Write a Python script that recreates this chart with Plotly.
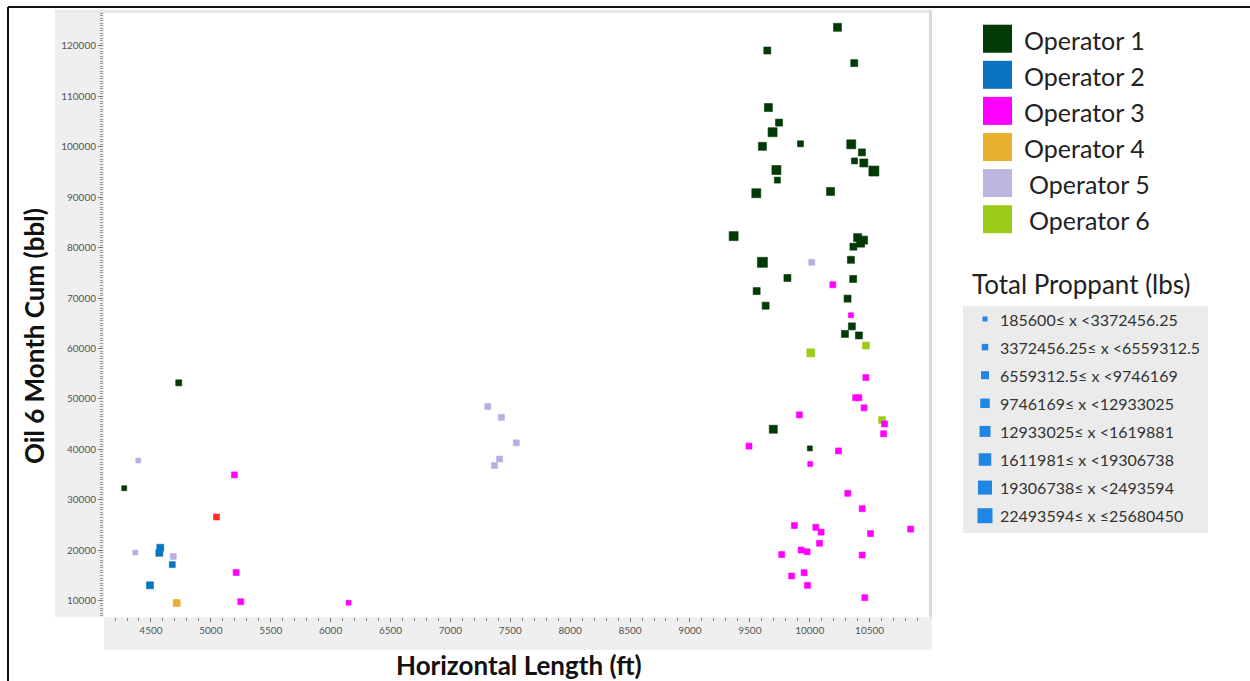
import plotly.graph_objects as go

# ---------------- data ----------------
operators = ["Operator 1", "Operator 2", "Operator 3", "Operator 4", "Operator 5", "Operator 6"]
op_colors = ["#023A06", "#0A74C0", "#FF00FF", "#E6B12E", "#BDB5E0", "#9CCB1A"]

op1_length = [10232, 9646, 10372, 9655, 9744, 9690, 9605, 9923, 10347, 10436, 10374, 10452,
              10536, 9722, 9730, 9554, 10174, 9365, 9605, 9814, 9557, 9632, 10400, 10450,
              10365, 10425, 10344, 10363, 10316, 10352, 10294, 10411, 9696, 10001, 4732, 4277]
op1_oil = [123700, 119100, 116600, 107800, 104800, 102900, 100100, 100600, 100500, 98900, 97200, 96800,
           95200, 95400, 93400, 90800, 91150, 82300, 77100, 74000, 71400, 68500, 82000, 81500,
           80200, 80900, 77600, 73800, 69900, 64400, 62900, 62600, 44000, 40200, 53200, 32300]
op1_proppant = [11.2e6, 8.1e6, 8.3e6, 11.0e6, 7.9e6, 14.6e6, 11.4e6, 5.0e6, 14.8e6, 8.2e6, 5.1e6, 11.3e6,
                17.6e6, 14.4e6, 4.9e6, 14.7e6, 11.1e6, 14.9e6, 17.8e6, 8.0e6, 8.2e6, 8.1e6, 11.5e6, 11.2e6,
                8.3e6, 11.0e6, 8.1e6, 8.0e6, 8.2e6, 8.1e6, 7.9e6, 8.0e6, 11.3e6, 1.9e6, 5.2e6, 2.2e6]

op2_length = [4578, 4570, 4678, 4492]
op2_oil = [20500, 19500, 17150, 13050]
op2_proppant = [8.0e6, 7.8e6, 5.3e6, 8.1e6]

op3_length = [5197, 5211, 5250, 6150, 10193, 10344, 10469, 10383, 10411, 10454, 9914, 10625,
              10617, 9493, 10240, 10004, 10318, 10438, 9872, 10051, 10095, 10508, 10843, 10082,
              9928, 9978, 9766, 10438, 9953, 9849, 9981, 10460]
op3_oil = [34950, 15600, 9800, 9600, 72650, 66600, 54250, 50250, 50250, 48250, 46850, 45050,
           43100, 40650, 39700, 37100, 31300, 28250, 24900, 24550, 23600, 23300, 24200, 21400,
           20050, 19700, 19150, 19050, 15550, 14900, 13050, 10600]
op3_proppant = [4.8e6, 4.9e6, 5.0e6, 2.4e6, 4.7e6, 2.6e6, 4.6e6, 5.1e6, 5.0e6, 4.9e6, 4.8e6, 5.0e6,
                5.2e6, 4.9e6, 4.7e6, 2.3e6, 5.0e6, 4.8e6, 5.1e6, 4.9e6, 5.0e6, 4.8e6, 5.2e6, 4.9e6,
                5.0e6, 4.8e6, 5.1e6, 4.9e6, 5.0e6, 4.7e6, 5.1e6, 5.0e6]

op4_length = [4715]
op4_oil = [9550]
op4_proppant = [7.6e6]

op5_length = [4394, 4369, 4686, 7312, 7426, 7550, 7411, 7368, 10017]
op5_oil = [37800, 19550, 18750, 48500, 46350, 41300, 38100, 36800, 77100]
op5_proppant = [2.1e6, 2.0e6, 4.5e6, 4.9e6, 5.0e6, 4.8e6, 5.1e6, 4.7e6, 4.6e6]

op6_length = [10009, 10469, 10604]
op6_oil = [59150, 60600, 45800]
op6_proppant = [11.0e6, 8.2e6, 8.0e6]

other_length = [5047]
other_oil = [26600]
other_proppant = [4.4e6]
other_color = "#FF2A2A"

prop_edges = [185600, 3372456.25, 6559312.5, 9746169, 12933025, 16119881, 19306738, 22493594, 25680450]
prop_labels = ["185600\u2264 x <3372456.25", "3372456.25\u2264 x <6559312.5", "6559312.5\u2264 x <9746169",
               "9746169\u2264 x <12933025", "12933025\u2264 x <1619881", "1611981\u2264 x <19306738",
               "19306738\u2264 x <2493594", "22493594\u2264 x \u226425680450"]
prop_title = "Total Proppant (lbs)"
prop_legend_color = "#1F86E6"

x_title = "Horizontal Length (ft)"
y_title = "Oil 6 Month Cum (bbl)"

# ---------------- styling ----------------
marker_sizes = [5, 6, 7, 8, 9, 10, 11, 12]
legend_sizes = [5, 6.5, 8, 9.5, 11, 12.5, 14, 15]

W, H = 1250, 681
L, R, T, B = 104, 929, 13, 617


def px(x):
    return (x - L) / (R - L)


def py(y):
    return (B - y) / (B - T)


def size_for(p):
    for i in range(len(prop_edges) - 1):
        if p < prop_edges[i + 1]:
            return marker_sizes[i]
    return marker_sizes[-1]


series = [
    (operators[0], op1_length, op1_oil, op1_proppant, op_colors[0]),
    (operators[1], op2_length, op2_oil, op2_proppant, op_colors[1]),
    ("Other", other_length, other_oil, other_proppant, other_color),
    (operators[3], op4_length, op4_oil, op4_proppant, op_colors[3]),
    (operators[4], op5_length, op5_oil, op5_proppant, "#B8AFE0"),
    (operators[5], op6_length, op6_oil, op6_proppant, op_colors[5]),
    (operators[2], op3_length, op3_oil, op3_proppant, op_colors[2]),
]

fig = go.Figure()
for name, xs, ys, ps, col in series:
    fig.add_trace(go.Scatter(
        x=xs, y=ys, mode="markers", name=name, showlegend=False,
        marker=dict(symbol="square", size=[size_for(p) for p in ps], color=col, opacity=1,
                    line=dict(width=0.6, color=col)),
    ))

shapes = []
annotations = []

# background bands
shapes.append(dict(type="rect", xref="paper", yref="paper", x0=px(55), x1=px(104), y0=py(617), y1=py(12),
                   fillcolor="#EFEFEF", line=dict(width=0), layer="below"))
shapes.append(dict(type="rect", xref="paper", yref="paper", x0=px(104), x1=px(932), y0=py(650), y1=py(617),
                   fillcolor="#EFEFEF", line=dict(width=0), layer="below"))
shapes.append(dict(type="rect", xref="paper", yref="paper", x0=px(55), x1=px(932), y0=py(13), y1=py(10),
                   fillcolor="#E8E8E8", line=dict(width=0), layer="below"))
shapes.append(dict(type="rect", xref="paper", yref="paper", x0=px(929), x1=px(932), y0=py(617), y1=py(10),
                   fillcolor="#DADADA", line=dict(width=0), layer="below"))
# outer frame
shapes.append(dict(type="line", xref="paper", yref="paper", x0=px(8), x1=px(8), y0=py(681), y1=py(7),
                   line=dict(color="#111111", width=2)))
shapes.append(dict(type="line", xref="paper", yref="paper", x0=px(8), x1=px(1250), y0=py(7), y1=py(7),
                   line=dict(color="#111111", width=2)))

# operator legend
for i, (name, col) in enumerate(zip(operators, op_colors)):
    cy = 38.7 + 36.1 * i
    shapes.append(dict(type="rect", xref="paper", yref="paper", x0=px(983), x1=px(1012),
                       y0=py(cy + 14), y1=py(cy - 14), fillcolor=col, line=dict(width=0)))
    tx = 1022 if i < 4 else 1027
    annotations.append(dict(text=name, xref="paper", yref="paper", x=px(tx), y=py(cy + 1),
                            xanchor="left", yanchor="middle", showarrow=False,
                            font=dict(family="Lato", size=25, color="#222222")))

annotations.append(dict(text=prop_title, xref="paper", yref="paper", x=px(1081), y=py(284),
                        xanchor="center", yanchor="middle", showarrow=False,
                        font=dict(family="Lato", size=26, color="#222222")))
shapes.append(dict(type="rect", xref="paper", yref="paper", x0=px(963), x1=px(1208), y0=py(533), y1=py(306),
                   fillcolor="#EBEBEB", line=dict(width=0), layer="below"))
for i, lab in enumerate(prop_labels):
    cy = 319 + 28.1 * i
    s = legend_sizes[i] / 2
    shapes.append(dict(type="rect", xref="paper", yref="paper", x0=px(985 - s), x1=px(985 + s),
                       y0=py(cy + s), y1=py(cy - s), fillcolor=prop_legend_color, line=dict(width=0)))
    annotations.append(dict(text=lab, xref="paper", yref="paper", x=px(998), y=py(cy),
                            xanchor="left", yanchor="middle", showarrow=False,
                            font=dict(family="Lato", size=16, color="#333333")))

# axis titles
annotations.append(dict(text=x_title, xref="paper", yref="paper", x=px(519), y=py(665),
                        xanchor="center", yanchor="middle", showarrow=False,
                        font=dict(family="Lato", size=26, color="#111111", weight="bold")))
annotations.append(dict(text=y_title, xref="paper", yref="paper", x=px(34), y=py(336),
                        xanchor="center", yanchor="middle", showarrow=False, textangle=-90,
                        font=dict(family="Lato", size=26, color="#111111", weight="bold")))

fig.update_layout(
    width=W, height=H,
    margin=dict(l=L, r=W - R, t=T, b=H - B, pad=0),
    paper_bgcolor="white", plot_bgcolor="white",
    shapes=shapes, annotations=annotations,
    xaxis=dict(range=[4108, 10996], tick0=4500, dtick=500, tickformat="d", ticks="outside", ticklen=4,
               tickcolor="#777777", tickwidth=1, showgrid=False, zeroline=False, showline=False,
               tickfont=dict(family="Lato", size=10, color="#555555"),
               minor=dict(dtick=100, ticks="outside", ticklen=3, tickcolor="#888888", showgrid=False)),
    yaxis=dict(range=[6768, 126538], tick0=0, dtick=10000, tickformat="d", ticks="outside", ticklen=5,
               tickcolor="#777777", tickwidth=1, showgrid=False, zeroline=False, showline=False,
               tickfont=dict(family="Lato", size=10, color="#555555"),
               minor=dict(dtick=500, ticks="outside", ticklen=3, tickcolor="#999999", showgrid=False)),
)

fig.write_html("out.html", config={"displayModeBar": False},
               post_script="document.body.style.margin='0px';")
